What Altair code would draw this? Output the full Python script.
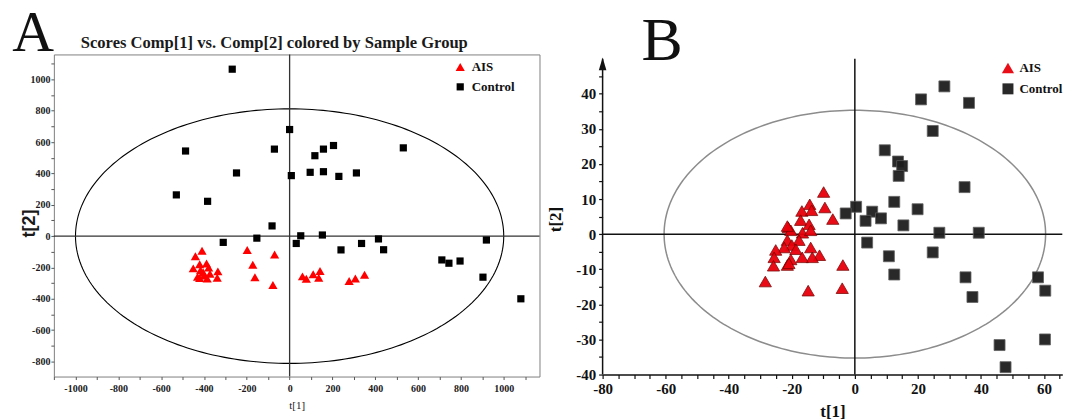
import numpy as np
import pandas as pd
import altair as alt

groups = ["AIS", "Control"]

# ---------------- Panel A ----------------
a_ais_x = [-409, -440, -420, -388, -450, -378, -416, -404, -335, -430, -400, -372, -338, -420, -385,
           -198, -70, -172, -162, -78, 60, 78, 110, 136, 142, 278, 307, 350]
a_ais_y = [-94, -128, -180, -175, -206, -201, -218, -230, -225, -260, -252, -240, -266, -268, -270,
           -89, -118, -183, -263, -312, -257, -272, -244, -266, -222, -287, -270, -247]
a_ctrl_x = [-268, 0, -486, -71, -248, 8, 96, 158, 230, 312, 118, 158, 205, 531, -529, -383, -82,
            -310, -153, 52, 153, 31, 240, 336, 415, 439, 711, 744, 796, 903, 919, 1080]
a_ctrl_y = [1065, 680, 543, 555, 403, 386, 407, 411, 381, 403, 513, 555, 578, 563, 263, 222, 65,
            -40, -13, 2, 7, -47, -88, -47, -18, -87, -152, -173, -159, -262, -25, -400]
a_x_domain = [-1101, 1167]
a_y_domain = [-896, 1159]
a_ellipse_axes = [1000, 812]
a_x_ticks = list(range(-1100, 1101, 100))
a_y_ticks = list(range(-900, 1101, 100))
a_title = "Scores Comp[1] vs. Comp[2] colored by Sample Group"

# ---------------- Panel B ----------------
b_ais_x = [-9.9, -14.3, -16.8, -13.7, -9.5, -7.0, -17.2, -21.1, -14.5, -20.3, -16.6, -14.0, -21.4,
           -17.7, -20.0, -18.7, -22.4, -25.1, -14.0, -11.2, -13.5, -16.7, -20.3, -25.6, -25.8, -21.4,
           -3.8, -28.4, -14.8, -4.0, -21.4, -20.9]
b_ais_y = [12.0, 8.5, 6.6, 6.8, 7.6, 4.3, 4.0, 1.9, 2.8, 1.1, 0.4, 1.1, -1.7, -1.7, -3.1, -4.3, -3.8,
           -4.5, -3.8, -6.0, -6.6, -6.6, -7.2, -6.6, -9.0, -8.8, -8.8, -13.5, -16.1, -15.4, 2.3, -8.3]
b_ctrl_x = [21.0, 28.4, 36.2, 24.7, 9.5, 13.7, 15.0, 13.9, 34.8, 12.5, 19.9, 0.4, 5.5, 3.4, 8.3, 15.4,
            -2.9, 26.8, 39.3, 3.9, 10.8, 24.7, 12.5, 35.1, 58.1, 60.4, 37.3, 60.3, 45.9, 47.8]
b_ctrl_y = [38.4, 42.1, 37.4, 29.4, 23.9, 20.7, 19.4, 16.6, 13.4, 9.2, 7.1, 7.8, 6.4, 3.8, 4.5, 2.5,
            5.9, 0.4, 0.4, -2.4, -6.3, -5.2, -11.5, -12.3, -12.3, -16.1, -17.9, -30.0, -31.6, -37.9]
b_x_domain = [-80, 65.8]
b_y_domain = [-40, 51.2]
b_ellipse_axes = [60.5, 35.3]
b_axis_top = 50
b_arrow_y = 48.5
b_x_ticks = list(range(-80, 66, 5))
b_y_ticks = list(range(-40, 46, 5))

SERIF = "Liberation Serif"


def points_df(ax, ay, cx, cy):
    return pd.DataFrame({
        "x": list(ax) + list(cx),
        "y": list(ay) + list(cy),
        "g": ["AIS"] * len(ax) + ["Control"] * len(cx),
    })


def ellipse_df(axes):
    t = np.linspace(0, 2 * np.pi, 241)
    return pd.DataFrame({"x": axes[0] * np.cos(t), "y": axes[1] * np.sin(t), "i": np.arange(len(t))})


# ================= Panel A =================
sxa = alt.Scale(domain=a_x_domain, nice=False, zero=False)
sya = alt.Scale(domain=a_y_domain, nice=False, zero=False)

axis_xa = alt.Axis(values=a_x_ticks, labelExpr="datum.value % 200 === 0 ? '' + datum.value : ''",
                   tickSize=3, tickColor="#555", labelPadding=4, labelFont=SERIF, labelFontWeight="bold",
                   labelFontSize=10, labelColor="#1a1a1a", domain=False, grid=False, labelOverlap=False,
                   labelFlush=False, title="t[1]", titleFont=SERIF, titleFontWeight="normal",
                   titleFontSize=11, titleColor="#1a1a1a", titlePadding=6)
axis_ya = alt.Axis(values=a_y_ticks, labelExpr="datum.value % 200 === 0 ? '' + datum.value : ''",
                   tickSize=3, tickColor="#555", labelPadding=1, labelFont=SERIF, labelFontWeight="bold",
                   labelFontSize=10, labelColor="#1a1a1a", domain=False, grid=False, labelOverlap=False,
                   labelFlush=False, title="t[2]", titleFont="Liberation Sans", titleFontWeight="bold",
                   titleFontSize=18, titleColor="#1a1a1a", titleX=-24, titleY=169, titleAngle=270,
                   titleBaseline="middle", titleAlign="center")

legend_a = alt.Legend(title=None, orient="none", legendX=401, legendY=6, labelFont=SERIF,
                      labelFontWeight="bold", labelFontSize=13, labelColor="#111", symbolSize=110,
                      symbolStrokeWidth=0, rowPadding=6, labelOffset=5, padding=0, symbolOffset=0)


def xa(field="x"):
    return alt.X(f"{field}:Q", scale=sxa, axis=axis_xa)


def ya(field="y"):
    return alt.Y(f"{field}:Q", scale=sya, axis=axis_ya)


ell_a = alt.Chart(ellipse_df(a_ellipse_axes)).mark_line(color="black", strokeWidth=1.1).encode(
    x=xa(), y=ya(), order="i:Q")

rules_a_df = pd.DataFrame({
    "x": [a_x_domain[0], 0], "x2": [a_x_domain[1], 0],
    "y": [0, a_y_domain[0]], "y2": [0, a_y_domain[1]],
})
rules_a = alt.Chart(rules_a_df).mark_rule(color="#333", strokeWidth=1.3).encode(
    x=xa(), x2="x2:Q", y=ya(), y2="y2:Q")

pts_a = alt.Chart(points_df(a_ais_x, a_ais_y, a_ctrl_x, a_ctrl_y)).mark_point(
    filled=True, opacity=1).encode(
    x=xa(), y=ya(),
    color=alt.Color("g:N", scale=alt.Scale(domain=groups, range=["#ff0000", "#000000"]), legend=legend_a),
    shape=alt.Shape("g:N", scale=alt.Scale(domain=groups, range=["triangle-up", "square"]), legend=legend_a),
    size=alt.Size("g:N", scale=alt.Scale(domain=groups, range=[85, 52]), legend=None),
)

txt_a = alt.Chart(pd.DataFrame({"t": ["A"]})).mark_text(
    font=SERIF, fontSize=58, align="left", baseline="alphabetic", color="#111").encode(
    text="t:N", x=alt.value(-41.7), y=alt.value(-3))
title_a = alt.Chart(pd.DataFrame({"t": [a_title]})).mark_text(
    font=SERIF, fontSize=16.6, fontWeight="bold", align="left", baseline="alphabetic", color="#1a1a1a").encode(
    text="t:N", x=alt.value(27), y=alt.value(-6))

panel_a = alt.layer(ell_a, rules_a, pts_a, txt_a, title_a).properties(
    width=487, height=323, view=alt.ViewBackground(stroke="#808080", strokeWidth=1))

# ================= Panel B =================
sxb = alt.Scale(domain=b_x_domain, nice=False, zero=False)
syb = alt.Scale(domain=b_y_domain, nice=False, zero=False)

axis_xb = alt.Axis(values=b_x_ticks, labelExpr="datum.value % 20 === 0 ? '' + datum.value : ''",
                   tickSize=4, tickColor="#111", tickWidth=1.2, labelPadding=3, labelFont=SERIF,
                   labelFontWeight="bold", labelFontSize=15, labelColor="#111", domain=True,
                   domainColor="#111", domainWidth=1.5, grid=False, labelOverlap=False, labelFlush=False,
                   title="t[1]", titleFont=SERIF, titleFontWeight="bold", titleFontSize=17,
                   titleColor="#111", titlePadding=7)
axis_yb = alt.Axis(values=b_y_ticks, labelExpr="datum.value % 10 === 0 ? '' + datum.value : ''",
                   tickSize=4, tickColor="#111", tickWidth=1.2, labelPadding=3, labelFont=SERIF,
                   labelFontWeight="bold", labelFontSize=15, labelColor="#111", domain=False, grid=False,
                   labelOverlap=False, labelFlush=False, title="t[2]", titleFont=SERIF,
                   titleFontWeight="bold", titleFontSize=17, titleColor="#111", titleX=-47, titleY=165,
                   titleAngle=270, titleBaseline="middle", titleAlign="center")

legend_b = alt.Legend(title=None, orient="none", legendX=400, legendY=7, labelFont=SERIF,
                      labelFontWeight="bold", labelFontSize=13, labelColor="#111", symbolSize=110,
                      symbolStrokeWidth=0, rowPadding=7, labelOffset=5, padding=0, symbolOffset=0)


def xb(field="x"):
    return alt.X(f"{field}:Q", scale=sxb, axis=axis_xb)


def yb(field="y"):
    return alt.Y(f"{field}:Q", scale=syb, axis=axis_yb)


ell_b = alt.Chart(ellipse_df(b_ellipse_axes)).mark_line(color="#8c8c8c", strokeWidth=1.5).encode(
    x=xb(), y=yb(), order="i:Q")

rules_b_df = pd.DataFrame({
    "x": [b_x_domain[0], 0, b_x_domain[0]], "x2": [b_x_domain[1], 0, b_x_domain[0]],
    "y": [0, b_y_domain[0], b_y_domain[0]], "y2": [0, b_axis_top, b_axis_top],
})
rules_b = alt.Chart(rules_b_df).mark_rule(color="#111", strokeWidth=1.5).encode(
    x=xb(), x2="x2:Q", y=yb(), y2="y2:Q")

arrow_b = alt.Chart(pd.DataFrame({"x": [b_x_domain[0]], "y": [b_arrow_y]})).mark_point(
    shape="M0,-1L0.6,1L-0.6,1Z", filled=True, color="#111", opacity=1, size=160).encode(
    x=xb(), y=yb())

pts_b = alt.Chart(points_df(b_ais_x, b_ais_y, b_ctrl_x, b_ctrl_y)).mark_point(
    filled=True, opacity=0.95, strokeWidth=0.8).encode(
    x=xb(), y=yb(),
    color=alt.Color("g:N", scale=alt.Scale(domain=groups, range=["#e8000b", "#1e1e1e"]), legend=legend_b),
    shape=alt.Shape("g:N", scale=alt.Scale(domain=groups, range=["triangle-up", "square"]), legend=legend_b),
    size=alt.Size("g:N", scale=alt.Scale(domain=groups, range=[150, 121]), legend=None),
    stroke=alt.Stroke("g:N", scale=alt.Scale(domain=groups, range=["#7a0000", "#5a5a5a"]), legend=None),
)

txt_b = alt.Chart(pd.DataFrame({"t": ["B"]})).mark_text(
    font=SERIF, fontSize=62, align="left", baseline="alphabetic", color="#111").encode(
    text="t:N", x=alt.value(39), y=alt.value(6))

panel_b = alt.layer(ell_b, rules_b, arrow_b, pts_b, txt_b).properties(width=461, height=321)

chart = alt.hconcat(panel_a, panel_b, spacing=63.3, bounds="flush").resolve_scale(
    x="independent", y="independent", color="independent", shape="independent",
    size="independent", stroke="independent",
).resolve_legend(color="independent", shape="independent").properties(
    padding={"left": 3, "top": -4, "right": 0, "bottom": 0},
    background="white",
).configure_view(stroke=None)

chart.save("out.html", embed_options={"renderer": "svg", "actions": False})
